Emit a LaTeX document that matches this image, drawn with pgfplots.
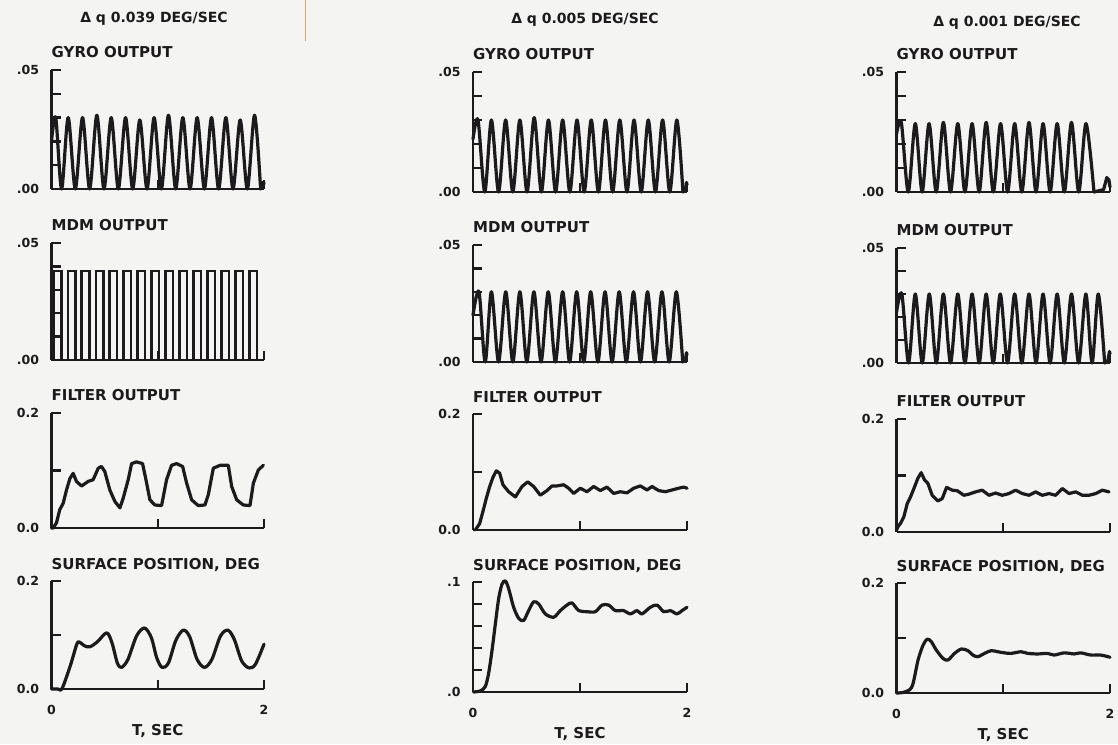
\documentclass[border=0pt]{standalone}
\usepackage{pgfplots}
\pgfplotsset{compat=1.18}
\usepackage{fontspec}
\setmainfont{DejaVu Sans}
\definecolor{ink}{RGB}{28,26,28}
\definecolor{paper}{RGB}{244,244,242}
\definecolor{scanline}{RGB}{222,165,115}
\newcommand{\fs}[1]{\fontsize{#1}{#1}\selectfont\bfseries}

\pgfplotsset{
  panel/.style={
    scale only axis, anchor=south west,
    xmin=0, xmax=2, ymin=0,
    axis x line*=bottom, axis y line*=left,
    axis line style={line width=2.6pt, ink},
    tick align=inside, major tick length=9pt,
    tick style={line width=2.3pt, ink},
    xtick={0,1,2}, xticklabels={},
    scaled ticks=false, clip=false,
    tick label style={font=\fs{12.5}, text=ink},
    yticklabel style={xshift=-9pt},
    xticklabel style={yshift=-13pt},
    title style={at={(0,1)}, anchor=base west, inner sep=0pt, yshift=6pt, font=\fs{15}, text=ink},
    xlabel style={at={(axis description cs:0.5,0)}, anchor=center, yshift=-42pt, font=\fs{15}, text=ink},
  },
  fast/.style={panel, ymax=0.05, ytick={0,0.01,0.02,0.03,0.04,0.05}, yticklabels={.00,,,,,.05}},
  slow/.style={panel, ymax=0.2, ytick={0,0.1,0.2}, yticklabels={0.0,,0.2}},
  bottomrow/.style={xticklabels={0,,2}, xlabel={T, SEC}},
  trace/.style={ink, line width=3.2pt, line join=round, line cap=round},
}

\begin{document}
\begin{tikzpicture}[x=1pt,y=1pt]
\fill[paper, use as bounding box] (0,0) rectangle (1118,744);
\draw[scanline, line width=0.9pt] (305,744) -- (305,703);

\node[font=\fs{14}, text=ink] at (154,725) {Δ q 0.039 DEG/SEC};
\node[font=\fs{14}, text=ink] at (585,724) {Δ q 0.005 DEG/SEC};
\node[font=\fs{14}, text=ink] at (1007,721) {Δ q 0.001 DEG/SEC};

% ---- column 1 : 0.039 deg/sec
\begin{axis}[fast, at={(51.5pt,555pt)}, width=212.5pt, height=119pt, title={GYRO OUTPUT}]
\addplot[trace, smooth] coordinates {(0,0.020) (0.04,0.030) (0.095,0) (0.157,0.030) (0.224,0) (0.292,0.030) (0.359,0) (0.427,0.031) (0.494,0) (0.562,0.030) (0.629,0) (0.697,0.030) (0.764,0) (0.831,0.029) (0.899,0) (0.966,0.030) (1.034,0) (1.101,0.031) (1.169,0) (1.236,0.030) (1.304,0) (1.371,0.030) (1.439,0) (1.506,0.030) (1.573,0) (1.641,0.030) (1.708,0) (1.776,0.029) (1.843,0) (1.911,0.031) (1.968,0)};
\addplot[trace] coordinates {(1.968,0) (1.985,0.001) (1.995,0.003) (2.0,0.002)};
\end{axis}

\begin{axis}[fast, at={(51.5pt,384pt)}, width=212.5pt, height=117pt, title={MDM OUTPUT}]
\addplot[ink, line width=2.6pt, line join=miter] coordinates {(0,0) (0.022,0) (0.022,0.038) (0.092,0.038) (0.092,0) (0.154,0) (0.154,0.038) (0.224,0.038) (0.224,0) (0.285,0) (0.285,0.038) (0.355,0.038) (0.355,0) (0.417,0) (0.417,0.038) (0.487,0.038) (0.487,0) (0.548,0) (0.548,0.038) (0.618,0.038) (0.618,0) (0.680,0) (0.680,0.038) (0.750,0.038) (0.750,0) (0.811,0) (0.811,0.038) (0.881,0.038) (0.881,0) (0.943,0) (0.943,0.038) (1.013,0.038) (1.013,0) (1.074,0) (1.074,0.038) (1.144,0.038) (1.144,0) (1.206,0) (1.206,0.038) (1.276,0.038) (1.276,0) (1.337,0) (1.337,0.038) (1.407,0.038) (1.407,0) (1.469,0) (1.469,0.038) (1.539,0.038) (1.539,0) (1.600,0) (1.600,0.038) (1.670,0.038) (1.670,0) (1.732,0) (1.732,0.038) (1.802,0.038) (1.802,0) (1.863,0) (1.863,0.038) (1.933,0.038) (1.933,0) (2.0,0)};
\end{axis}

\begin{axis}[slow, at={(51.5pt,216pt)}, width=212.5pt, height=115pt, title={FILTER OUTPUT}]
\addplot[trace] coordinates {(0,0) (0.016,0) (0.047,0.009) (0.078,0.032) (0.11,0.043) (0.141,0.066) (0.173,0.086) (0.204,0.095) (0.235,0.081) (0.283,0.073) (0.345,0.081) (0.392,0.084) (0.44,0.104) (0.471,0.107) (0.502,0.098) (0.549,0.066) (0.597,0.046) (0.644,0.035) (0.675,0.052) (0.722,0.084) (0.754,0.112) (0.801,0.115) (0.857,0.112) (0.889,0.084) (0.926,0.049) (0.973,0.040) (1.036,0.039) (1.083,0.084) (1.13,0.109) (1.177,0.112) (1.234,0.107) (1.272,0.078) (1.319,0.049) (1.381,0.039) (1.444,0.040) (1.476,0.058) (1.523,0.104) (1.586,0.109) (1.664,0.109) (1.696,0.072) (1.743,0.049) (1.805,0.040) (1.868,0.039) (1.9,0.078) (1.947,0.101) (1.994,0.109)};
\end{axis}

\begin{axis}[slow, bottomrow, at={(51.5pt,55pt)}, width=212.5pt, height=108pt, title={SURFACE POSITION, DEG}]
\addplot[trace, smooth] coordinates {(0,0) (0.06,0) (0.10,0.001) (0.18,0.045) (0.24,0.084) (0.27,0.086) (0.31,0.080) (0.36,0.078) (0.43,0.087) (0.52,0.104) (0.57,0.085) (0.62,0.048) (0.66,0.040) (0.72,0.055) (0.80,0.098) (0.875,0.113) (0.94,0.095) (0.99,0.058) (1.04,0.040) (1.10,0.048) (1.17,0.090) (1.24,0.109) (1.30,0.097) (1.37,0.055) (1.44,0.040) (1.51,0.055) (1.59,0.098) (1.66,0.109) (1.72,0.092) (1.79,0.052) (1.86,0.039) (1.92,0.046) (2.0,0.083)};
\end{axis}

% ---- column 2 : 0.005 deg/sec
\begin{axis}[fast, at={(473pt,552pt)}, width=214pt, height=120pt, title={GYRO OUTPUT}]
\addplot[trace, smooth] coordinates {(0,0.022) (0.047,0.030) (0.11,0) (0.172,0.030) (0.239,0) (0.305,0.030) (0.372,0) (0.438,0.030) (0.505,0) (0.572,0.031) (0.639,0) (0.705,0.030) (0.772,0) (0.838,0.030) (0.905,0) (0.972,0.030) (1.039,0) (1.105,0.030) (1.172,0) (1.238,0.030) (1.305,0) (1.372,0.030) (1.439,0) (1.505,0.030) (1.572,0) (1.638,0.030) (1.705,0) (1.772,0.030) (1.839,0) (1.905,0.030) (1.962,0)};
\addplot[trace] coordinates {(1.962,0) (1.985,0.001) (1.995,0.004) (2.0,0.003)};
\end{axis}

\begin{axis}[fast, at={(473pt,382pt)}, width=214pt, height=117pt, title={MDM OUTPUT}]
\addplot[trace, smooth] coordinates {(0,0.020) (0.056,0.030) (0.114,0) (0.172,0.030) (0.239,0) (0.306,0.030) (0.372,0) (0.438,0.030) (0.503,0) (0.569,0.030) (0.636,0) (0.703,0.030) (0.770,0) (0.838,0.030) (0.903,0) (0.969,0.030) (1.035,0) (1.1,0.030) (1.167,0) (1.234,0.030) (1.300,0) (1.366,0.030) (1.433,0) (1.5,0.030) (1.565,0) (1.631,0.030) (1.698,0) (1.766,0.030) (1.833,0) (1.9,0.030) (1.96,0)};
\addplot[trace] coordinates {(1.96,0) (1.985,0.001) (1.995,0.004) (2.0,0.003)};
\end{axis}

\begin{axis}[slow, at={(473pt,214pt)}, width=214pt, height=116pt, title={FILTER OUTPUT}]
\addplot[trace] coordinates {(0.022,0) (0.062,0.011) (0.093,0.032) (0.125,0.055) (0.156,0.075) (0.187,0.091) (0.218,0.102) (0.249,0.098) (0.280,0.078) (0.333,0.066) (0.396,0.057) (0.458,0.075) (0.511,0.083) (0.567,0.075) (0.629,0.060) (0.692,0.068) (0.738,0.076) (0.785,0.076) (0.847,0.078) (0.894,0.072) (0.941,0.063) (1.003,0.072) (1.065,0.066) (1.128,0.075) (1.190,0.068) (1.252,0.074) (1.315,0.063) (1.377,0.066) (1.439,0.064) (1.502,0.072) (1.564,0.076) (1.626,0.069) (1.673,0.075) (1.735,0.068) (1.798,0.066) (1.860,0.069) (1.922,0.072) (1.969,0.074) (2.0,0.072)};
\end{axis}

\begin{axis}[panel, bottomrow, ymax=0.1, ytick={0,0.02,0.04,0.06,0.08,0.1}, yticklabels={.0,,,,,.1}, at={(473pt,52pt)}, width=214pt, height=110pt, title={SURFACE POSITION, DEG}]
\addplot[trace, smooth] coordinates {(0.006,0) (0.069,0.001) (0.115,0.005) (0.146,0.017) (0.178,0.038) (0.209,0.062) (0.240,0.085) (0.271,0.098) (0.302,0.101) (0.333,0.094) (0.380,0.077) (0.427,0.067) (0.473,0.065) (0.520,0.074) (0.567,0.082) (0.614,0.080) (0.676,0.071) (0.754,0.068) (0.816,0.074) (0.878,0.079) (0.925,0.081) (0.988,0.074) (1.065,0.073) (1.143,0.073) (1.206,0.079) (1.268,0.079) (1.330,0.074) (1.408,0.074) (1.470,0.071) (1.533,0.074) (1.579,0.071) (1.657,0.077) (1.720,0.079) (1.782,0.073) (1.844,0.074) (1.907,0.071) (1.953,0.074) (2.0,0.077)};
\end{axis}

% ---- column 3 : 0.001 deg/sec
\begin{axis}[fast, at={(896.5pt,552pt)}, width=213.5pt, height=120pt, title={GYRO OUTPUT}]
\addplot[trace, smooth] coordinates {(0,0.024) (0.045,0.029) (0.11,0) (0.176,0.0285) (0.24,0) (0.305,0.0285) (0.372,0) (0.439,0.029) (0.506,0) (0.574,0.0285) (0.641,0) (0.708,0.0285) (0.774,0) (0.840,0.029) (0.907,0) (0.975,0.0285) (1.041,0) (1.107,0.0285) (1.174,0) (1.241,0.029) (1.307,0) (1.373,0.0285) (1.439,0) (1.505,0.0285) (1.572,0) (1.639,0.029) (1.707,0) (1.775,0.0285) (1.85,0)};
\addplot[trace] coordinates {(1.85,0) (1.94,0.001) (1.97,0.006) (1.99,0.005) (2.0,0.002)};
\end{axis}

\begin{axis}[fast, at={(896.5pt,381pt)}, width=213.5pt, height=115pt, title={MDM OUTPUT}]
\addplot[trace, smooth] coordinates {(0,0.022) (0.05,0.030) (0.113,0) (0.176,0.030) (0.241,0) (0.307,0.030) (0.373,0) (0.439,0.030) (0.506,0) (0.574,0.030) (0.641,0) (0.708,0.030) (0.774,0) (0.840,0.030) (0.906,0) (0.972,0.030) (1.04,0) (1.107,0.030) (1.174,0) (1.241,0.030) (1.307,0) (1.373,0.030) (1.439,0) (1.505,0.030) (1.572,0) (1.639,0.030) (1.706,0) (1.774,0.030) (1.832,0) (1.89,0.030) (1.95,0)};
\addplot[trace] coordinates {(1.95,0) (1.98,0.001) (1.995,0.005) (2.0,0.004)};
\end{axis}

\begin{axis}[slow, at={(896.5pt,212pt)}, width=213.5pt, height=113pt, title={FILTER OUTPUT}]
\addplot[trace] coordinates {(0,0.003) (0.012,0.009) (0.037,0.015) (0.069,0.027) (0.1,0.050) (0.131,0.062) (0.163,0.077) (0.2,0.095) (0.231,0.105) (0.263,0.092) (0.294,0.086) (0.334,0.065) (0.388,0.055) (0.428,0.059) (0.469,0.079) (0.522,0.074) (0.569,0.073) (0.631,0.065) (0.678,0.067) (0.741,0.071) (0.803,0.074) (0.866,0.065) (0.928,0.069) (0.991,0.065) (1.053,0.068) (1.116,0.074) (1.178,0.068) (1.241,0.065) (1.303,0.071) (1.366,0.065) (1.428,0.068) (1.491,0.065) (1.553,0.077) (1.616,0.068) (1.678,0.071) (1.741,0.065) (1.803,0.065) (1.866,0.068) (1.928,0.074) (1.991,0.071)};
\end{axis}

\begin{axis}[slow, bottomrow, at={(896.5pt,51pt)}, width=213.5pt, height=110pt, title={SURFACE POSITION, DEG}]
\addplot[trace, smooth] coordinates {(0,0) (0.062,0.001) (0.124,0.006) (0.156,0.018) (0.202,0.060) (0.249,0.087) (0.289,0.098) (0.327,0.093) (0.373,0.078) (0.435,0.063) (0.482,0.060) (0.544,0.072) (0.607,0.080) (0.669,0.077) (0.715,0.069) (0.762,0.066) (0.824,0.072) (0.887,0.077) (0.949,0.075) (1.011,0.073) (1.073,0.072) (1.166,0.075) (1.229,0.072) (1.322,0.071) (1.415,0.072) (1.477,0.069) (1.571,0.073) (1.664,0.071) (1.726,0.073) (1.82,0.069) (1.913,0.069) (2.0,0.065)};
\end{axis}
\end{tikzpicture}
\end{document}
